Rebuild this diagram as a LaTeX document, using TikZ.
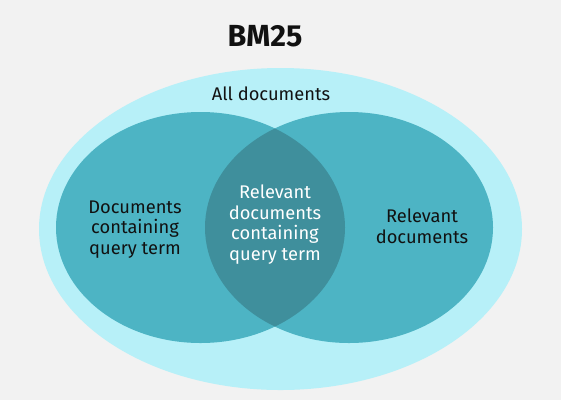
\documentclass[tikz,border=0pt]{standalone}
\usepackage{fontspec}
\setmainfont{Fira Sans}
\begin{document}
\begin{tikzpicture}[x=1pt,y=-1pt,
  lbl/.style={align=center,font=\fontsize{18.3}{20.5}\selectfont,inner sep=0pt,anchor=base}]
\definecolor{bg}{HTML}{F2F2F2}
\definecolor{outer}{HTML}{B7F0F8}
\definecolor{circ}{HTML}{4DB4C4}
\definecolor{lens}{HTML}{3F8F9C}
\definecolor{txt}{HTML}{111111}
\fill[bg] (0,0) rectangle (561,400);
\useasboundingbox (0,0) rectangle (561,400);
\fill[outer] (280.5,229) ellipse [x radius=241.5,y radius=161];
\fill[circ] (200.5,227.5) ellipse [x radius=144.5,y radius=115.5];
\fill[circ] (349,227.5) ellipse [x radius=144,y radius=115.5];
\begin{scope}
\clip (200.5,227.5) ellipse [x radius=144.5,y radius=115.5];
\fill[lens] (349,227.5) ellipse [x radius=144,y radius=115.5];
\end{scope}
\node[font=\fontsize{30.5}{34}\selectfont\bfseries,text=txt,inner sep=0pt,anchor=base] (title) at (265,46) {BM25};
\node[lbl,text=txt] (all) at (271,100.7) {All documents};
\node[lbl,text=txt] (left) at (135,254) {Documents\\containing\\query term};
\node[lbl,text=txt] (right) at (422,243.3) {Relevant\\documents};
\node[lbl,text=white] (mid) at (275,260) {Relevant\\documents\\containing\\query term};
\end{tikzpicture}
\end{document}
